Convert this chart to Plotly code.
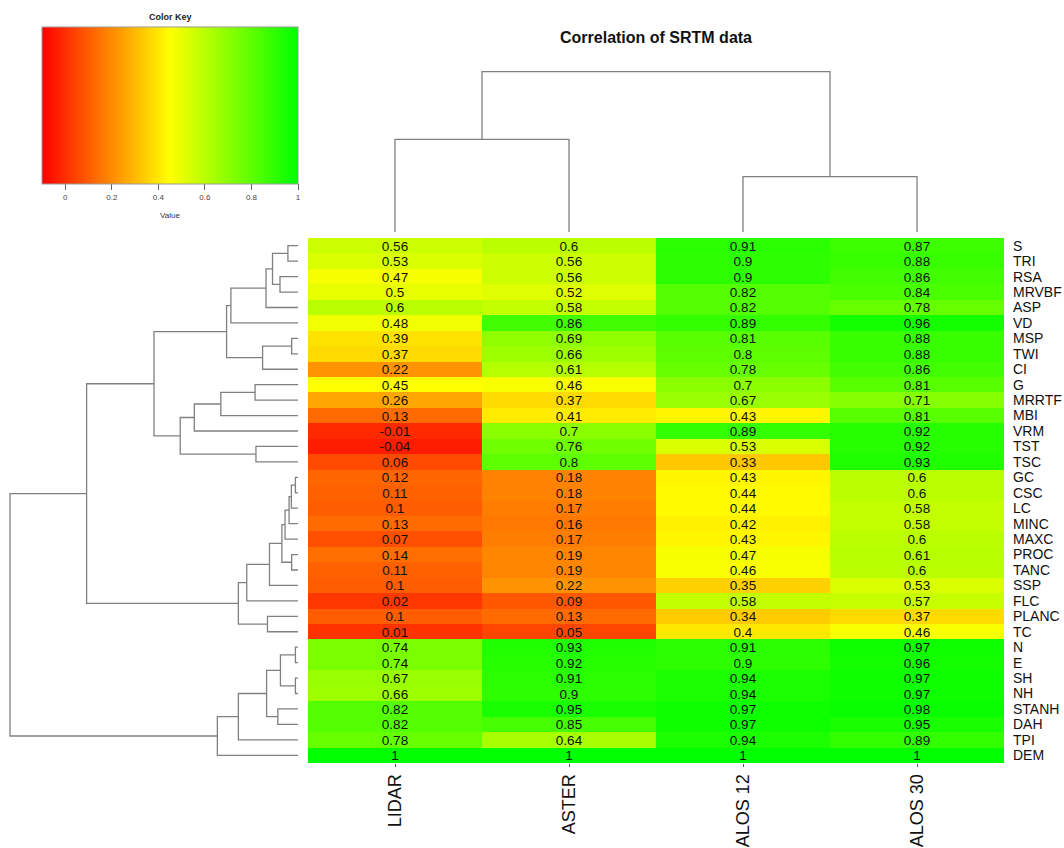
import plotly.graph_objects as go

# ---------------- data ----------------
columns = ["LIDAR", "ASTER", "ALOS 12", "ALOS 30"]
rows = ["S", "TRI", "RSA", "MRVBF", "ASP", "VD", "MSP", "TWI", "CI", "G", "MRRTF", "MBI",
        "VRM", "TST", "TSC", "GC", "CSC", "LC", "MINC", "MAXC", "PROC", "TANC", "SSP",
        "FLC", "PLANC", "TC", "N", "E", "SH", "NH", "STANH", "DAH", "TPI", "DEM"]

lidar = [0.56, 0.53, 0.47, 0.5, 0.6, 0.48, 0.39, 0.37, 0.22, 0.45, 0.26, 0.13,
         -0.01, -0.04, 0.06, 0.12, 0.11, 0.1, 0.13, 0.07, 0.14, 0.11, 0.1,
         0.02, 0.1, 0.01, 0.74, 0.74, 0.67, 0.66, 0.82, 0.82, 0.78, 1]
aster = [0.6, 0.56, 0.56, 0.52, 0.58, 0.86, 0.69, 0.66, 0.61, 0.46, 0.37, 0.41,
         0.7, 0.76, 0.8, 0.18, 0.18, 0.17, 0.16, 0.17, 0.19, 0.19, 0.22,
         0.09, 0.13, 0.05, 0.93, 0.92, 0.91, 0.9, 0.95, 0.85, 0.64, 1]
alos12 = [0.91, 0.9, 0.9, 0.82, 0.82, 0.89, 0.81, 0.8, 0.78, 0.7, 0.67, 0.43,
          0.89, 0.53, 0.33, 0.43, 0.44, 0.44, 0.42, 0.43, 0.47, 0.46, 0.35,
          0.58, 0.34, 0.4, 0.91, 0.9, 0.94, 0.94, 0.97, 0.97, 0.94, 1]
alos30 = [0.87, 0.88, 0.86, 0.84, 0.78, 0.96, 0.88, 0.88, 0.86, 0.81, 0.71, 0.81,
          0.92, 0.92, 0.93, 0.6, 0.6, 0.58, 0.58, 0.6, 0.61, 0.6, 0.53,
          0.57, 0.37, 0.46, 0.97, 0.96, 0.97, 0.97, 0.98, 0.95, 0.89, 1]

# row dendrogram merges: (child_a, child_b, height); node k is named "n<k>" (1-based)
row_merges = [
    ("S", "TRI", 0.035), ("RSA", "MRVBF", 0.0625), ("n1", "n2", 0.0885),
    ("n3", "ASP", 0.111), ("n4", "VD", 0.233), ("MSP", "TWI", 0.022),
    ("n6", "CI", 0.123), ("n5", "n7", 0.248), ("G", "MRRTF", 0.149),
    ("n9", "MBI", 0.268), ("n10", "VRM", 0.360), ("TST", "TSC", 0.146),
    ("n11", "n12", 0.409), ("n8", "n13", 0.5), ("GC", "CSC", 0.009),
    ("n15", "LC", 0.023), ("n16", "MINC", 0.031), ("n17", "MAXC", 0.045),
    ("PROC", "TANC", 0.022), ("n18", "n19", 0.056), ("n20", "SSP", 0.099),
    ("n21", "FLC", 0.178), ("PLANC", "TC", 0.106), ("n22", "n23", 0.207),
    ("n14", "n24", 0.734), ("N", "E", 0.009), ("SH", "NH", 0.009),
    ("n26", "n27", 0.061), ("STANH", "DAH", 0.070), ("n28", "n29", 0.109),
    ("n30", "TPI", 0.207), ("n31", "DEM", 0.280), ("n25", "n32", 1.0),
]
# column dendrogram merges
col_merges = [("LIDAR", "ASTER", 0.578), ("ALOS 12", "ALOS 30", 0.345), ("n1", "n2", 1.0)]

key_ticks = [0, 0.2, 0.4, 0.6, 0.8, 1]

# ---------------- helpers ----------------
W, H = 1064, 848
LINE = dict(color="#808080", width=1.3)
FONT = "Liberation Sans, Arial"


def dendro_segments(leaves, merges):
    pos = {name: (i, 0.0) for i, name in enumerate(leaves)}
    seg_p, seg_h = [], []
    for k, (a, b, h) in enumerate(merges, start=1):
        pa, ha = pos[a]
        pb, hb = pos[b]
        seg_p += [pa, pa, pb, pb, None]
        seg_h += [ha, h, h, hb, None]
        pos["n%d" % k] = ((pa + pb) / 2.0, h)
    return seg_p, seg_h


def fmt(v):
    return ("%g" % v)


z = [[lidar[i], aster[i], alos12[i], alos30[i]] for i in range(len(rows))]
txt = [[fmt(v) for v in r] for r in z]

fig = go.Figure()

fig.add_trace(go.Heatmap(
    z=z, x=list(range(4)), y=list(range(len(rows))), text=txt,
    texttemplate="%{text}",
    textfont=dict(family=FONT, size=13.5, color="#111111"),
    colorscale=[[0, "#FF0000"], [0.5, "#FFFF00"], [1, "#00FF00"]],
    zmin=-0.1, zmax=1,
    xaxis="x", yaxis="y",
    colorbar=dict(
        orientation="h", x=42 / W, xanchor="left", y=1 - 27 / H, yanchor="top",
        len=256, lenmode="pixels", thickness=157, thicknessmode="pixels",
        xpad=0, ypad=0, outlinewidth=1, outlinecolor="#9a9a9a",
        tickvals=key_ticks, ticktext=[fmt(t) for t in key_ticks],
        ticks="outside", ticklen=6, tickcolor="#666666",
        tickfont=dict(family=FONT, size=8, color="#444444"),
    ),
    hoverinfo="skip",
))

# row dendrogram (left)
rp, rh = dendro_segments(rows, row_merges)
fig.add_trace(go.Scatter(x=rh, y=rp, mode="lines", line=LINE, xaxis="x2", yaxis="y",
                         hoverinfo="skip", showlegend=False))

# column dendrogram (top)
cp, ch = dendro_segments(columns, col_merges)
fig.add_trace(go.Scatter(x=cp, y=ch, mode="lines", line=LINE, xaxis="x", yaxis="y2",
                         hoverinfo="skip", showlegend=False))

fig.update_layout(
    width=W, height=H, margin=dict(l=0, r=0, t=0, b=0),
    paper_bgcolor="white", plot_bgcolor="white", showlegend=False,
    font=dict(family=FONT, color="#111111"),
    xaxis=dict(domain=[308 / W, 1004 / W], range=[-0.5, 3.5], anchor="y",
               tickvals=list(range(4)), ticktext=columns, tickangle=-90,
               tickfont=dict(family=FONT, size=18, color="#111111"),
               ticks="outside", ticklen=3, tickcolor="#555555",
               showgrid=False, zeroline=False, showline=False),
    yaxis=dict(domain=[1 - 763 / H, 1 - 238 / H], range=[len(rows) - 0.5, -0.5],
               anchor="x", side="right", tickvals=list(range(len(rows))), ticktext=rows,
               tickfont=dict(family=FONT, size=14, color="#111111"),
               ticks="", ticklabelstandoff=8,
               showgrid=False, zeroline=False, showline=False),
    xaxis2=dict(domain=[0, 308 / W], range=[1 + 10 / 288, -10 / 288], anchor="y",
                visible=False, showgrid=False, zeroline=False),
    yaxis2=dict(domain=[1 - 238 / H, 1 - 40 / H], range=[-6 / 160.3, 192 / 160.3],
                anchor="x", visible=False, showgrid=False, zeroline=False),
    annotations=[
        dict(text="<b>Correlation of SRTM data</b>", x=656 / W, y=1 - 38 / H,
             xref="paper", yref="paper", showarrow=False, xanchor="center", yanchor="middle",
             font=dict(family=FONT, size=16, color="#111111")),
        dict(text="<b>Color Key</b>", x=170 / W, y=1 - 17 / H, xref="paper", yref="paper",
             showarrow=False, xanchor="center", yanchor="middle",
             font=dict(family=FONT, size=9, color="#222222")),
        dict(text="Value", x=170 / W, y=1 - 215 / H, xref="paper", yref="paper",
             showarrow=False, xanchor="center", yanchor="middle",
             font=dict(family=FONT, size=8, color="#333333")),
    ],
)

fig.write_html("out.html")
